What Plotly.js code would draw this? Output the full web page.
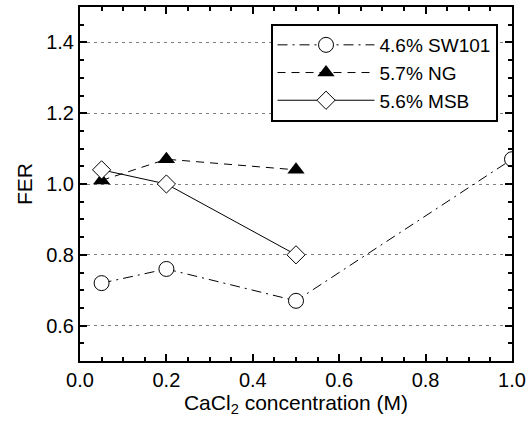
<!DOCTYPE html>
<html><head><meta charset="utf-8">
<script src="https://cdn.plot.ly/plotly-3.0.1.min.js"></script>
<style>html,body{margin:0;padding:0;background:#fff}#c{width:532px;height:428px}</style>
</head><body><div id="c"></div>
<script>
const seriesNames = ["4.6% SW101", "5.7% NG", "5.6% MSB"];
const xSW = [0.05, 0.2, 0.5, 1.0];
const ySW = [0.72, 0.76, 0.67, 1.07];
const xNG = [0.05, 0.2, 0.5];
const yNG = [1.01, 1.07, 1.04];
const xMSB = [0.05, 0.2, 0.5];
const yMSB = [1.04, 1.00, 0.80];
const xTicks = [0.0, 0.2, 0.4, 0.6, 0.8, 1.0];
const xTickText = ["0.0", "0.2", "0.4", "0.6", "0.8", "1.0"];
const yTicks = [0.6, 0.8, 1.0, 1.2, 1.4];
const yTickText = ["0.6", "0.8", "1.0", "1.2", "1.4"];

const F = "Liberation Sans, Arial, sans-serif";
const traces = [
  {x: xSW, y: ySW, name: seriesNames[0], mode: "lines+markers", type: "scatter",
   line: {color: "black", width: 1, dash: "10px,5px,2px,5px"},
   marker: {symbol: "circle", size: 15, color: "white", line: {width: 1, color: "black"}}},
  {x: xNG, y: yNG, name: seriesNames[1], mode: "lines+markers", type: "scatter",
   line: {color: "black", width: 1, dash: "8px,6px"},
   marker: {symbol: "triangle-up", size: 15, color: "black"}},
  {x: xMSB, y: yMSB, name: seriesNames[2], mode: "lines+markers", type: "scatter",
   line: {color: "black", width: 1, dash: "solid"},
   marker: {symbol: "diamond", size: 14, color: "white", line: {width: 1, color: "black"}}}
];
const layout = {
  width: 532, height: 428,
  margin: {l: 80, r: 20, t: 7, b: 67},
  paper_bgcolor: "white", plot_bgcolor: "white",
  font: {family: F, size: 20, color: "black"},
  showlegend: true,
  legend: {x: 0.441, y: 0.952, xanchor: "left", yanchor: "top",
    bgcolor: "white", bordercolor: "black", borderwidth: 2,
    font: {family: F, size: 19, color: "black"}, tracegroupgap: 0, itemwidth: 97},
  xaxis: {range: [0, 1.0], tickvals: xTicks, ticktext: xTickText,
    showline: true, linecolor: "black", linewidth: 2, mirror: "ticks",
    ticks: "inside", ticklen: 7, tickwidth: 2, tickcolor: "black",
    showgrid: false, zeroline: false,
    minor: {dtick: 0.05, ticks: "inside", ticklen: 4, tickwidth: 2, tickcolor: "black", showgrid: false},
    tickfont: {family: F, size: 20},
    title: {text: "CaCl<sub>2</sub> concentration (M)", font: {family: F, size: 21}, standoff: 2}},
  yaxis: {range: [0.5, 1.5], tickvals: yTicks, ticktext: yTickText,
    showline: true, linecolor: "black", linewidth: 2, mirror: "ticks",
    ticks: "inside", ticklen: 7, tickwidth: 2, tickcolor: "black",
    showgrid: true, gridcolor: "#808080", gridwidth: 1, griddash: "3px,4px", zeroline: false,
    minor: {dtick: 0.05, ticks: "inside", ticklen: 4, tickwidth: 2, tickcolor: "black", showgrid: false},
    tickfont: {family: F, size: 20},
    title: {text: "FER", font: {family: F, size: 21}, standoff: 8}}
};
Plotly.newPlot("c", traces, layout, {displayModeBar: false, staticPlot: true});
</script></body></html>
